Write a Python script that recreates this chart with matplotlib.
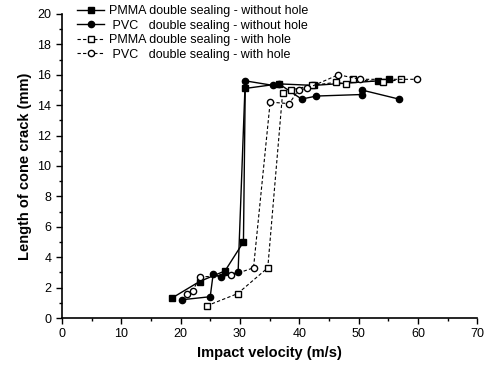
import matplotlib.pyplot as plt
from matplotlib.ticker import MultipleLocator

plt.rcParams['font.family'] = ['Liberation Sans', 'DejaVu Sans']

# PMMA double sealing - without hole
pmma_nh_x = [18.5, 23.2, 27.5, 30.6, 30.9, 36.6, 42.5, 53.3, 55.2]
pmma_nh_y = [1.3, 2.4, 3.1, 5.0, 15.1, 15.4, 15.3, 15.6, 15.7]

# PVC double sealing - without hole
pvc_nh_x = [20.2, 25.0, 25.5, 26.8, 29.7, 30.9, 35.6, 36.6, 40.4, 42.9, 50.5, 50.5, 56.8]
pvc_nh_y = [1.2, 1.4, 2.9, 2.7, 3.0, 15.6, 15.3, 15.4, 14.4, 14.6, 14.7, 15.0, 14.4]

# PMMA double sealing - with hole
pmma_h_x = [24.4, 29.6, 34.7, 37.2, 38.6, 42.1, 46.2, 47.9, 49.1, 54.2, 57.2]
pmma_h_y = [0.8, 1.6, 3.3, 14.8, 15.0, 15.3, 15.5, 15.4, 15.7, 15.5, 15.7]

# PVC double sealing - with hole
pvc_h_x = [21.1, 22.1, 23.2, 28.5, 32.3, 35.1, 38.3, 39.9, 41.3, 46.6, 50.3, 59.8]
pvc_h_y = [1.6, 1.8, 2.7, 2.8, 3.3, 14.2, 14.1, 15.0, 15.1, 16.0, 15.7, 15.7]

labels = ["PMMA double sealing - without hole",
          " PVC   double sealing - without hole",
          "PMMA double sealing - with hole",
          " PVC   double sealing - with hole"]

fig = plt.figure(figsize=(4.87, 3.67), dpi=100)
ax = fig.add_axes([0.127, 0.1335, 0.853, 0.8285])

ax.plot(pmma_nh_x, pmma_nh_y, '-', color='black', lw=1.0, marker='s',
        ms=4.5, mfc='black', label=labels[0])
ax.plot(pvc_nh_x, pvc_nh_y, '-', color='black', lw=1.0, marker='o',
        ms=4.5, mfc='black', label=labels[1])
ax.plot(pmma_h_x, pmma_h_y, '--', color='black', lw=0.8, marker='s',
        ms=4.5, mfc='white', dashes=(3, 2), label=labels[2])
ax.plot(pvc_h_x, pvc_h_y, '--', color='black', lw=0.8, marker='o',
        ms=4.5, mfc='white', dashes=(3, 2), label=labels[3])

ax.set_xlim(0, 70)
ax.set_ylim(0, 20)
ax.xaxis.set_major_locator(MultipleLocator(10))
ax.xaxis.set_minor_locator(MultipleLocator(5))
ax.yaxis.set_major_locator(MultipleLocator(2))
ax.yaxis.set_minor_locator(MultipleLocator(1))
ax.tick_params(which='major', length=4, width=1, labelsize=9)
ax.tick_params(which='minor', length=2, width=1)

for side in ['top', 'right']:
    ax.spines[side].set_visible(False)
for side in ['left', 'bottom']:
    ax.spines[side].set_linewidth(1.2)

ax.set_xlabel('Impact velocity (m/s)', fontsize=10.5, fontweight='bold')
ax.set_ylabel('Length of cone crack (mm)', fontsize=10.5, fontweight='bold')

ax.legend(loc='upper left', bbox_to_anchor=(0.14, 1.01), bbox_transform=fig.transFigure,
          frameon=False, fontsize=9, handlelength=2.2, handletextpad=0.4,
          labelspacing=0.2, borderpad=0.2)

fig.savefig('out.png', dpi=100)
